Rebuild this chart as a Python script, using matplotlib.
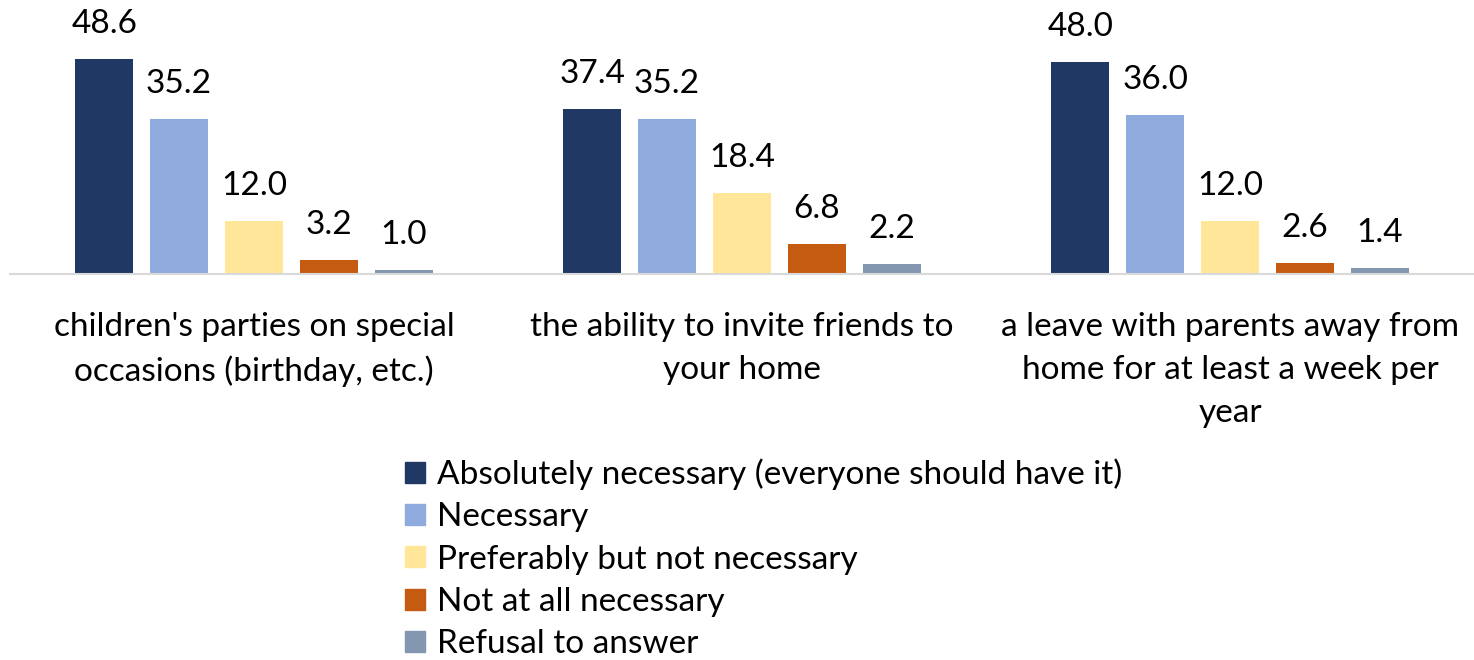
import numpy as np
import matplotlib.pyplot as plt
from matplotlib.patches import Patch

plt.rcParams['font.family'] = ['Lato', 'DejaVu Sans']

categories = ["children's parties on special\noccasions (birthday, etc.)",
              "the ability to invite friends to\nyour home",
              "a leave with parents away from\nhome for at least a week per\nyear"]
series = ["Absolutely necessary (everyone should have it)",
          "Necessary",
          "Preferably but not necessary",
          "Not at all necessary",
          "Refusal to answer"]
absolutely = [48.6, 37.4, 48.0]
necessary = [35.2, 35.2, 36.0]
preferably = [12.0, 18.4, 12.0]
not_at_all = [3.2, 6.8, 2.6]
refusal = [1.0, 2.2, 1.4]
colors = ['#203864', '#8FAADC', '#FFE699', '#C55A11', '#8497B0']

values = [absolutely, necessary, preferably, not_at_all, refusal]

fig = plt.figure(figsize=(14.74, 6.6), dpi=100)
ax = fig.add_axes([10 / 1474, 386 / 660, 1464 / 1474, 265 / 660])

fs = 24
x = np.arange(len(categories))
step = 0.1535
width = 0.12
for i, (vals, c) in enumerate(zip(values, colors)):
    pos = x + (i - 2) * step
    bars = ax.bar(pos, vals, width, color=c, label=series[i])
    for b, v in zip(bars, vals):
        ax.text(b.get_x() + b.get_width() / 2, v + 4.5, f'{v:.1f}',
                ha='center', va='bottom', fontsize=fs)

ax.set_xlim(-0.5, 2.5)
ax.set_ylim(0, 60)
ax.set_xticks(x)
ax.set_xticklabels(categories, fontsize=fs, linespacing=1.55)
ax.tick_params(axis='x', length=0, pad=27)
ax.set_yticks([])
for s in ['top', 'left', 'right']:
    ax.spines[s].set_visible(False)
ax.spines['bottom'].set_color('#D9D9D9')
ax.spines['bottom'].set_linewidth(1.5)

handles = [Patch(color=c) for c in colors]
fig.legend(handles, series, loc='upper left', bbox_to_anchor=(392 / 1474, 1 - 445 / 660),
           frameon=False, fontsize=fs, handlelength=0.6, handleheight=0.6,
           handletextpad=0.35, labelspacing=0.37, borderaxespad=0)

fig.savefig('out.png', dpi=100)
